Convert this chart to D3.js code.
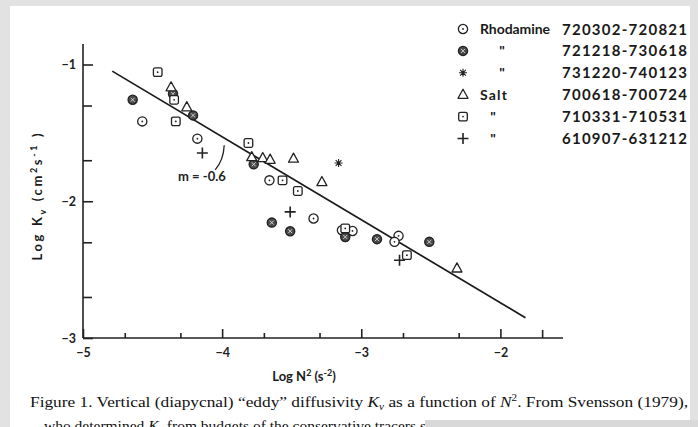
<!DOCTYPE html>
<html>
<head>
<meta charset="utf-8">
<script src="https://cdn.jsdelivr.net/npm/d3@7"></script>
<style>
  html, body { margin: 0; padding: 0; background: #e2e2e2; }
  svg { display: block; }
  .tk text { font-family: Lato, "DejaVu Sans", sans-serif; font-weight: 700; font-size: 12.5px; fill: #222; }
  .tk path, .tk line { stroke: #222; stroke-width: 1.6; }
</style>
</head>
<body>
<div class="chart"></div>
<script>
// Svensson (1979): log Kv against log N^2, one array per tracer series
const rhod1X = [-4.574, -4.178, -3.660, -3.343, -3.139, -3.063, -2.732, -2.761];
const rhod1Y = [-1.416, -1.542, -1.847, -2.126, -2.212, -2.217, -2.253, -2.297];

const rhod2X = [-4.643, -4.353, -4.209, -3.773, -3.643, -3.511, -3.115, -2.887, -2.511];
const rhod2Y = [-1.258, -1.214, -1.372, -1.730, -2.156, -2.219, -2.261, -2.277, -2.297];

const rhod3X = [-3.163];
const rhod3Y = [-1.720];

const salt1X = [-4.367, -4.254, -3.787, -3.708, -3.655, -3.487, -3.283, -2.312];
const salt1Y = [-1.166, -1.312, -1.677, -1.684, -1.696, -1.688, -1.859, -2.491];

const salt2X = [-4.463, -4.345, -4.333, -3.811, -3.566, -3.456, -3.115, -2.672];
const salt2Y = [-1.056, -1.258, -1.416, -1.574, -1.847, -1.925, -2.199, -2.394];

const salt3X = [-4.142, -3.511, -2.725];
const salt3Y = [-1.647, -2.078, -2.431];

// fitted line, slope m = -0.6
const fitSlope = -0.607;
const fitIntercept = -3.956;
const fitRange = [-4.79, -1.82];

const xMajor = [-5, -4, -3, -2];
const xMinor = [-4.7, -4.3, -3.7, -3.3, -2.7, -2.3, -1.7];
const yMajor = [-1, -2, -3];
const yMinor = [-1.3, -1.7, -2.3, -2.7];

const legendTracer = ["Rhodamine", "\"", "\"", "Salt", "\"", "\""];
const legendPeriod = ["720302-720821", "721218-730618", "731220-740123",
                      "700618-700724", "710331-710531", "610907-631212"];
const legendShape = ["circle", "dark", "star", "triangle", "square", "plus"];

const W = 698, H = 427;
const svg = d3.select(".chart").append("svg")
    .attr("width", W).attr("height", H)
    .attr("viewBox", "0 0 " + W + " " + H);

// page
svg.append("rect").attr("x", 10).attr("y", 6).attr("width", 680).attr("height", H)
    .attr("fill", "#fff");

const x = d3.scaleLinear().domain([-5, -1.55]).range([83, 563]);
const y = d3.scaleLinear().domain([-3, -0.85]).range([338, 44]);

// axes: ticks drawn inward
svg.append("g").attr("class", "tk").attr("transform", "translate(83,0)")
    .call(d3.axisLeft(y).tickValues(yMajor).tickSize(-10).tickPadding(7)
        .tickFormat(d3.format("d")));
svg.append("g").attr("class", "tk").attr("transform", "translate(83,0)")
    .call(d3.axisLeft(y).tickValues(yMinor).tickSize(-9).tickFormat(""))
    .select(".domain").remove();

svg.append("g").attr("class", "tk").attr("transform", "translate(0,338)")
    .call(d3.axisBottom(x).tickValues(xMajor).tickSize(-9).tickPadding(10)
        .tickFormat(d3.format("d")));
svg.append("g").attr("class", "tk").attr("transform", "translate(0,338)")
    .call(d3.axisBottom(x).tickValues(xMinor).tickSize(-5).tickFormat(""))
    .call(g => g.selectAll(".tick").filter(d => d === -1.7).select("line").attr("y2", -8))
    .select(".domain").remove();

svg.selectAll(".tk .domain").attr("d", function () {
  return this.parentNode.getAttribute("transform").indexOf("83,0") >= 0
      ? "M0,44V338" : "M83,0H563";
});

// regression line
svg.append("line")
    .attr("x1", x(fitRange[0])).attr("y1", y(fitIntercept + fitSlope * fitRange[0]))
    .attr("x2", x(fitRange[1])).attr("y2", y(fitIntercept + fitSlope * fitRange[1]))
    .attr("stroke", "#1a1a1a").attr("stroke-width", 1.7);

// slope annotation
const annX = -4.145, annY = -1.85;
svg.append("text").attr("x", x(annX)).attr("y", y(annY))
    .attr("text-anchor", "middle")
    .style("font-family", "Lato, 'DejaVu Sans', sans-serif")
    .style("font-size", "13px").style("font-weight", 700).attr("fill", "#222")
    .text("m = -0.6");
svg.append("path")
    .attr("d", "M" + x(-3.985) + "," + y(-1.59) + " Q" + x(-3.99) + "," + y(-1.70) +
        " " + x(-4.05) + "," + y(-1.77))
    .attr("fill", "none").attr("stroke", "#222").attr("stroke-width", 1.3);

function marker(g, shape, cx, cy) {
  const s = g.append("g").attr("transform", "translate(" + cx + "," + cy + ")")
      .attr("stroke", "#222").attr("stroke-width", 1.3).attr("fill", "#fff");
  if (shape === "circle") {
    s.append("circle").attr("r", 4.6);
    s.append("circle").attr("r", 0.9).attr("fill", "#222").attr("stroke", "none");
  } else if (shape === "dark") {
    s.append("circle").attr("r", 4.6).attr("fill", "#4a4a4a");
    s.append("path").attr("d", "M-2,-2L2,2M2,-2L-2,2")
        .attr("stroke", "#ddd").attr("stroke-width", 0.9);
  } else if (shape === "star") {
    s.append("path").attr("d", "M-4,0H4M0,-4V4M-2.9,-2.9L2.9,2.9M2.9,-2.9L-2.9,2.9")
        .attr("stroke-width", 1.1);
  } else if (shape === "triangle") {
    s.append("path").attr("d", "M0,-5.5L5,3.6H-5Z").attr("stroke-linejoin", "round");
  } else if (shape === "square") {
    s.append("rect").attr("x", -4.3).attr("y", -4.3).attr("width", 8.6).attr("height", 8.6)
        .attr("rx", 1.6);
    s.append("circle").attr("r", 0.9).attr("fill", "#222").attr("stroke", "none");
  } else if (shape === "plus") {
    s.append("path").attr("d", "M-5.5,0H5.5M0,-5.5V5.5").attr("stroke-width", 1.6);
  }
}

const series = [
  [rhod1X, rhod1Y, "circle"], [rhod2X, rhod2Y, "dark"], [rhod3X, rhod3Y, "star"],
  [salt1X, salt1Y, "triangle"], [salt2X, salt2Y, "square"], [salt3X, salt3Y, "plus"]
];
const pts = svg.append("g");
series.forEach(([xs, ys, shape]) => {
  xs.forEach((v, i) => marker(pts, shape, x(v), y(ys[i])));
});

// legend
const lg = svg.append("g");
legendShape.forEach((shape, i) => {
  const ly = 29 + i * 21.9;
  marker(lg, shape, 463, ly);
  const isDitto = legendTracer[i] === "\"";
  lg.append("text")
      .attr("x", isDitto ? (i < 3 ? 502 : 493) : 480).attr("y", ly + 5)
      .attr("text-anchor", isDitto ? "middle" : "start")
      .attr("textLength", isDitto ? null : (legendTracer[i] === "Salt" ? 27 : 70))
      .style("font-family", "Lato, 'DejaVu Sans', sans-serif")
      .style("font-size", "14px").style("font-weight", 700).attr("fill", "#1a1a1a")
      .text(legendTracer[i]);
  lg.append("text").attr("x", 562).attr("y", ly + 5.5)
      .attr("textLength", 125).attr("lengthAdjust", "spacing")
      .style("font-family", "Lato, 'DejaVu Sans', sans-serif")
      .style("font-size", "15px").style("font-weight", 700).attr("fill", "#1a1a1a")
      .text(legendPeriod[i]);
});

// axis titles
const font = "Lato, 'DejaVu Sans', sans-serif";
const xt = svg.append("text").attr("x", 304).attr("y", 381).attr("text-anchor", "middle")
    .style("font-family", font).style("font-size", "13px").style("font-weight", 700)
    .attr("fill", "#1a1a1a");
xt.append("tspan").text("Log N");
xt.append("tspan").attr("dy", -5).style("font-size", "9px").text("2");
xt.append("tspan").attr("dy", 5).text(" (s");
xt.append("tspan").attr("dy", -5).style("font-size", "9px").text("-2");
xt.append("tspan").attr("dy", 5).text(")");

const yt = svg.append("text").attr("transform", "translate(42,197) rotate(-90)")
    .attr("text-anchor", "middle")
    .style("font-family", font).style("font-size", "13px").style("font-weight", 700)
    .attr("fill", "#1a1a1a").attr("textLength", 127);
yt.append("tspan").text("Log  K");
yt.append("tspan").attr("dy", 4).style("font-size", "9px").text("v");
yt.append("tspan").attr("dy", -4).text("  (cm");
yt.append("tspan").attr("dy", -5).style("font-size", "9px").text("2");
yt.append("tspan").attr("dy", 5).text("s");
yt.append("tspan").attr("dy", -5).style("font-size", "9px").text("-1");
yt.append("tspan").attr("dy", 5).text(" )");

// caption
const serif = "'Liberation Serif', 'DejaVu Serif', serif";
const cap = svg.append("text").attr("x", 30).attr("y", 407)
    .attr("textLength", 658).attr("lengthAdjust", "spacingAndGlyphs")
    .style("font-family", serif).style("font-size", "15.5px").attr("fill", "#111");
cap.append("tspan").text("Figure 1.  Vertical (diapycnal) \u201Ceddy\u201D diffusivity ");
cap.append("tspan").style("font-style", "italic").text("K");
cap.append("tspan").attr("dy", 3).style("font-size", "10px").style("font-style", "italic").text("v");
cap.append("tspan").attr("dy", -3).text(" as a function of ");
cap.append("tspan").style("font-style", "italic").text("N");
cap.append("tspan").attr("dy", -6).style("font-size", "10px").text("2");
cap.append("tspan").attr("dy", 6).text(". From Svensson (1979),");

const cap2 = svg.append("text").attr("x", 44).attr("y", 431)
    .style("font-family", serif).style("font-size", "15.5px").attr("fill", "#111");
cap2.append("tspan").text("who determined ");
cap2.append("tspan").style("font-style", "italic").text("K");
cap2.append("tspan").attr("dy", 3).style("font-size", "10px").style("font-style", "italic").text("v");
cap2.append("tspan").attr("dy", -3).text(" from budgets of the conservative tracers salt and rhodamine in the");

svg.append("rect").attr("x", 425).attr("y", 420).attr("width", W - 425).attr("height", 10)
    .attr("fill", "#d9d9d9");
</script>
</body>
</html>
